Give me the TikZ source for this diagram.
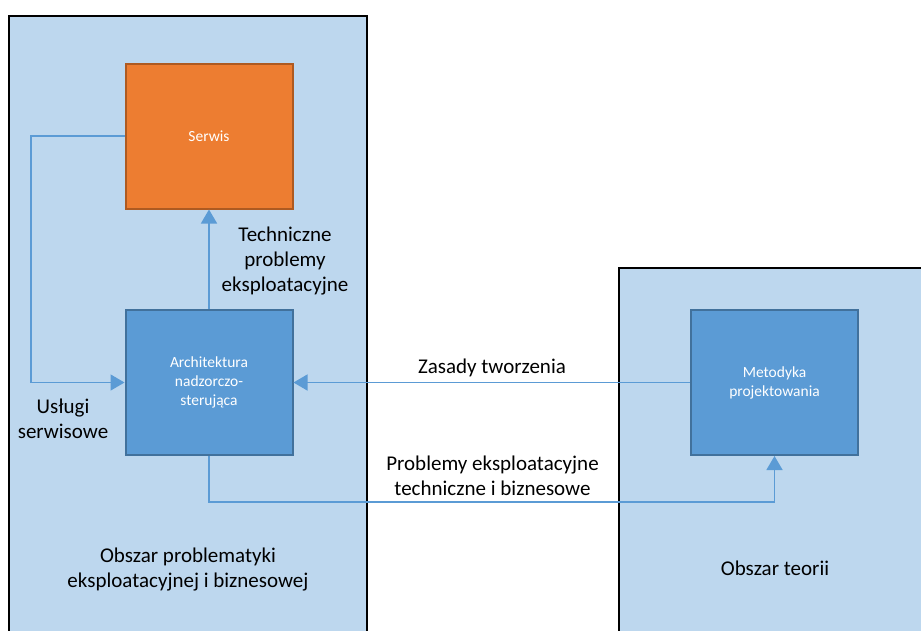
\documentclass[tikz,border=0pt]{standalone}
\usepackage{fontspec}
\setmainfont{Carlito}
\usetikzlibrary{arrows.meta}
\definecolor{areafill}{HTML}{BDD7EE}
\definecolor{bluefill}{HTML}{5B9BD5}
\definecolor{blueedge}{HTML}{41719C}
\definecolor{orangefill}{HTML}{ED7D31}
\definecolor{orangeedge}{HTML}{AE5A21}
\definecolor{linkcol}{HTML}{5B9BD5}
\tikzset{
  area/.style={draw=black, line width=2pt, fill=areafill},
  boxbase/.style={line width=2pt, minimum width=167pt, minimum height=145pt,
    text=white, align=center, font=\fontsize{15.5}{19}\selectfont, inner sep=0pt},
  bluebox/.style={boxbase, draw=blueedge, fill=bluefill},
  orangebox/.style={boxbase, draw=orangeedge, fill=orangefill},
  link/.style={draw=linkcol, line width=1.5pt},
  linkarrow/.style={link, -{Triangle[length=14pt,width=16pt]}},
  lbl/.style={align=center, font=\fontsize{21}{25}\selectfont, text=black, inner sep=0pt},
}
\begin{document}
\begin{tikzpicture}[x=1pt, y=-1pt]
  \useasboundingbox (0,0) rectangle (921,630);
  \clip (0,0) rectangle (921,630);

  % the two areas
  \path[area] (9,16) rectangle (367,645);
  \path[area] (619,268) rectangle (935,645);

  % boxes
  \node[orangebox] (serwis) at (209,136) {Serwis};
  \node[bluebox] (arch) at (209,382.5) {Architektura\\nadzorczo-\\sterująca};
  \node[bluebox] (metod) at (774.5,382.5) {Metodyka\\projektowania};

  % connectors
  \coordinate (loopx) at (31,0);
  \draw[linkarrow] (serwis.west) -- (serwis.west -| loopx) |- (arch.west);
  \draw[linkarrow] (arch.north) -- (serwis.south);
  \draw[linkarrow] (metod.west) -- (arch.east);
  \coordinate (lowy) at (0,502);
  \draw[linkarrow] (arch.south) -- (arch.south |- lowy) -| (metod.south);

  % labels
  \node[lbl] (ltech) at (285,261) {Techniczne\\problemy\\eksploatacyjne};
  \node[lbl] (luslugi) at (63,419) {Usługi\\serwisowe};
  \node[lbl] (lzasady) at (492,368) {Zasady tworzenia};
  \node[lbl] (lprob) at (492.5,476) {Problemy eksploatacyjne\\techniczne i biznesowe};
  \node[lbl] (lobszar1) at (188,569) {Obszar problematyki\\eksploatacyjnej i biznesowej};
  \node[lbl] (lobszar2) at (775,568) {Obszar teorii};
\end{tikzpicture}
\end{document}
